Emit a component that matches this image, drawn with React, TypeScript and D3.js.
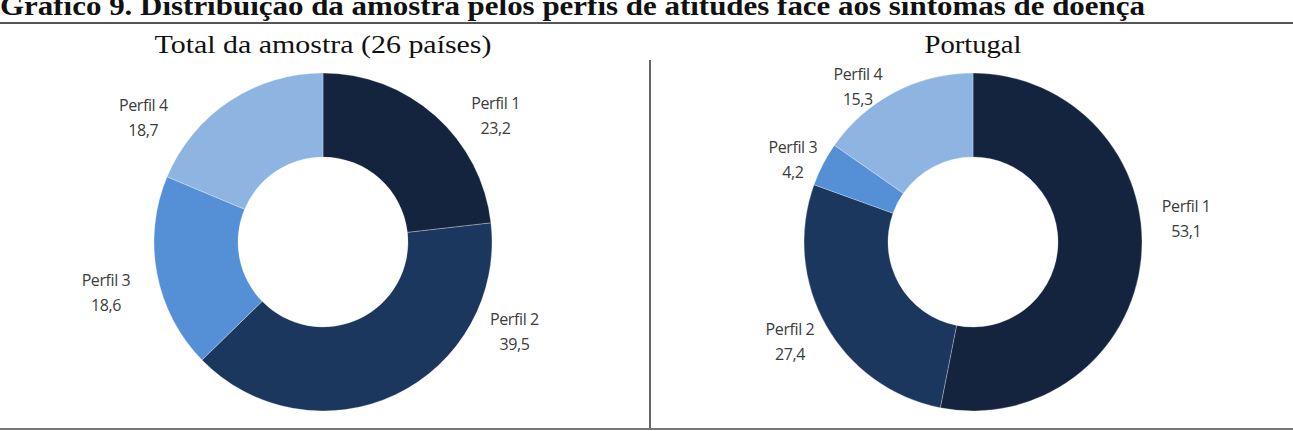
import * as d3 from 'd3'

const categories = ['Perfil 1', 'Perfil 2', 'Perfil 3', 'Perfil 4']
const totalValues = [23.2, 39.5, 18.6, 18.7]
const portugalValues = [53.1, 27.4, 4.2, 15.3]
const sliceColors = ['#14243f', '#1b375e', '#5590d6', '#8eb4e2']

// nudges from the outer edge of each slice to where the label sits
const totalLabelNudge = [[60, 0], [119, -63], [-51, 19], [-86, 17]]
const portugalLabelNudge = [[45, -39], [-36, 17], [-30, -4], [-37, -5]]

const W = 1293
const H = 431
const R = 169
const r0 = 85
const serif = 'Liberation Serif, Times New Roman, Times, serif'

const pie = d3.pie<number>().sort(null).value(d => d)
const arc = d3.arc<d3.PieArcDatum<number>>().innerRadius(r0).outerRadius(R)
const edge = d3.arc<d3.PieArcDatum<number>>().innerRadius(R).outerRadius(R)
const fmt = (v: number) => d3.format('.1f')(v).replace('.', ',')

function Donut({ cx, cy, values, nudge }: { cx: number; cy: number; values: number[]; nudge: number[][] }) {
  const slices = pie(values)
  return (
    <g transform={`translate(${cx},${cy})`}>
      {slices.map((s, i) => (
        <path key={i} d={arc(s) || ''} fill={sliceColors[i]} stroke="#ffffff" strokeOpacity={0.35} strokeWidth={0.8} />
      ))}
      {slices.map((s, i) => {
        const [x, y] = edge.centroid(s)
        const lx = x + nudge[i][0]
        const ly = y + nudge[i][1]
        return (
          <text key={'l' + i} x={lx} textAnchor="middle" fontFamily="Open Sans, sans-serif" fontSize={16} fill="#3c3c3c" letterSpacing={-0.4}>
            <tspan x={lx} y={ly - 7}>{categories[i]}</tspan>
            <tspan x={lx} y={ly + 18}>{fmt(values[i])}</tspan>
          </text>
        )
      })}
    </g>
  )
}

export default function App() {
  return (
    <svg width={W} height={H} style={{ position: 'absolute', left: 0, top: 0, background: '#fff' }}>
      <rect width={W} height={H} fill="#fff" />
      <text x={0} y={15} fontFamily={serif} fontWeight="bold" fontSize={27} fill="#111" textLength={1145} lengthAdjust="spacingAndGlyphs">
        Gráfico 9. Distribuição da amostra pelos perfis de atitudes face aos sintomas de doença
      </text>
      <line x1={0} x2={W} y1={23} y2={23} stroke="#555" strokeWidth={2} />
      <text x={323} y={53} textAnchor="middle" fontFamily={serif} fontSize={26} fill="#111" textLength={337} lengthAdjust="spacingAndGlyphs">
        Total da amostra (26 países)
      </text>
      <text x={973} y={53} textAnchor="middle" fontFamily={serif} fontSize={26} fill="#111" textLength={97} lengthAdjust="spacingAndGlyphs">
        Portugal
      </text>
      <line x1={650} x2={650} y1={60} y2={429} stroke="#666" strokeWidth={2} />
      <line x1={0} x2={W} y1={429} y2={429} stroke="#777" strokeWidth={2} />
      <Donut cx={323} cy={242} values={totalValues} nudge={totalLabelNudge} />
      <Donut cx={973} cy={242} values={portugalValues} nudge={portugalLabelNudge} />
    </svg>
  )
}
